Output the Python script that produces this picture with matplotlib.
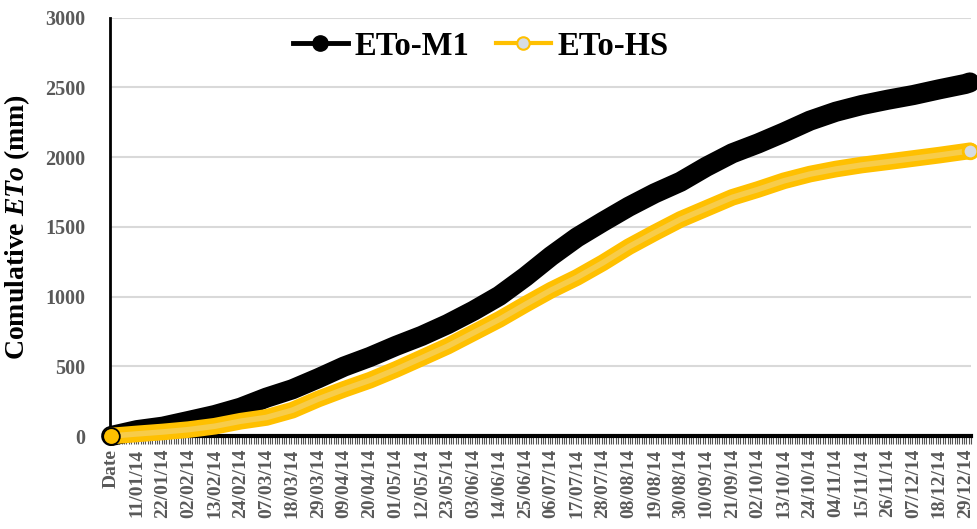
import numpy as np
import matplotlib
matplotlib.use("Agg")
import matplotlib.pyplot as plt
from matplotlib.lines import Line2D

plt.rcParams['font.family'] = ['Liberation Serif', 'DejaVu Serif']
plt.rcParams['mathtext.fontset'] = 'custom'
plt.rcParams['mathtext.it'] = 'Liberation Serif:italic:bold'
plt.rcParams['mathtext.rm'] = 'Liberation Serif:bold'

# tick labels: first category is the header "Date", then every 11th day
tick_labels = ["Date", "11/01/14", "22/01/14", "02/02/14", "13/02/14", "24/02/14",
               "07/03/14", "18/03/14", "29/03/14", "09/04/14", "20/04/14", "01/05/14",
               "12/05/14", "23/05/14", "03/06/14", "14/06/14", "25/06/14", "06/07/14",
               "17/07/14", "28/07/14", "08/08/14", "19/08/14", "30/08/14", "10/09/14",
               "21/09/14", "02/10/14", "13/10/14", "24/10/14", "04/11/14", "15/11/14",
               "26/11/14", "07/12/14", "18/12/14", "29/12/14"]
n_cat = 366  # Date + 365 days

# category index of each read value
day = [0, 11, 22, 33, 44, 55, 66, 77, 88, 99, 110, 121, 132, 143, 154, 165, 176,
       187, 198, 209, 220, 231, 242, 253, 264, 275, 286, 297, 308, 319, 330, 341,
       352, 363, 365]

# cumulative ETo (mm)
eto_m1 = [0, 42, 67, 108, 150, 203, 275, 335, 414, 498, 567, 646, 718, 802, 898,
          1005, 1141, 1290, 1424, 1536, 1644, 1740, 1823, 1931, 2027, 2098, 2177,
          2261, 2325, 2373, 2411, 2445, 2486, 2524, 2535]
eto_hs = [0, 15, 29, 46, 70, 106, 133, 185, 265, 335, 400, 477, 560, 644, 740,
          836, 943, 1046, 1137, 1242, 1357, 1457, 1553, 1632, 1711, 1768, 1830,
          1878, 1914, 1943, 1966, 1990, 2014, 2040, 2045]

yellow = '#FFC000'
gray_fill = '#D6DCE4'
tick_gray = '#595959'

fig = plt.figure(figsize=(9.77, 5.29), dpi=100)
ax = fig.add_axes([0.1126, 0.1758, 0.8813, 0.7909])

# M1: dense black markers -> thick black band
ax.plot(day, eto_m1, color='black', lw=14.5, solid_capstyle='round',
        solid_joinstyle='round', clip_on=False, zorder=3)
# HS: dense yellow markers with grey fill
ax.plot(day, eto_hs, color=yellow, lw=12, solid_capstyle='round',
        solid_joinstyle='round', clip_on=False, zorder=4)
ax.plot(day, eto_hs, color='#F7CC4A', lw=4, solid_capstyle='round',
        solid_joinstyle='round', clip_on=False, zorder=5)
ax.plot(day[-1:], eto_hs[-1:], 'o', ms=10.5, mfc=gray_fill, mec=yellow, mew=2,
        clip_on=False, zorder=6)
ax.plot(day[:1], eto_hs[:1], 'o', ms=12, mfc=yellow, mec='black', mew=1.3,
        clip_on=False, zorder=6)

ax.set_xlim(-0.5, n_cat - 0.5)
ax.set_ylim(0, 3000)
ax.set_yticks(np.arange(0, 3001, 500))
ax.yaxis.grid(True, color='#D9D9D9', lw=1.5)
ax.set_axisbelow(True)

ax.set_xticks(np.arange(0, len(tick_labels) * 11, 11))
ax.set_xticklabels(tick_labels, rotation=90, fontsize=14, fontweight='bold',
                   color=tick_gray)
ax.set_xticks(np.arange(-0.5, n_cat, 1), minor=True)
ax.tick_params(axis='x', which='major', length=0, pad=9)
ax.tick_params(axis='x', which='minor', length=6, width=0.8, color='#555555')
ax.tick_params(axis='y', length=0, pad=18)
for lab in ax.get_yticklabels():
    lab.set_fontsize(14.5)
    lab.set_fontweight('bold')
    lab.set_color(tick_gray)

for s in ['top', 'right']:
    ax.spines[s].set_visible(False)
ax.spines['left'].set_linewidth(2)
ax.spines['bottom'].set_linewidth(3)

ax.set_ylabel('Comulative $ETo$ (mm)', fontsize=20, fontweight='bold', labelpad=9)

handles = [Line2D([], [], color='black', lw=3.5, marker='o', ms=11, mfc='black', mec='black'),
           Line2D([], [], color=yellow, lw=3, marker='o', ms=9, mfc=gray_fill, mec=yellow, mew=1.5)]
ax.legend(handles, ['ETo-M1', 'ETo-HS'], loc='center', bbox_to_anchor=(0.492, 0.913),
          bbox_transform=fig.transFigure, ncol=2, frameon=False,
          prop={'family': 'Liberation Serif', 'weight': 'bold', 'size': 23.5},
          handlelength=1.7, handletextpad=0.2, columnspacing=0.8)

fig.savefig('out.png', dpi=100)
